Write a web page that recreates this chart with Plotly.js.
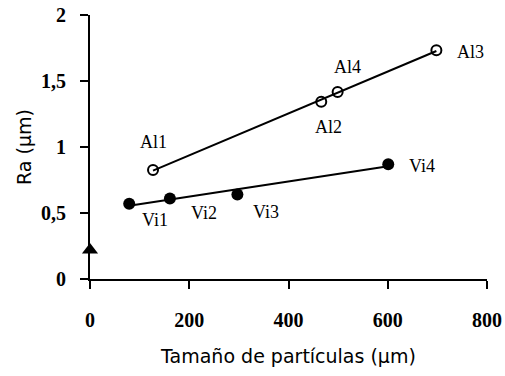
<!DOCTYPE html>
<html>
<head>
<meta charset="utf-8">
<script src="https://cdn.plot.ly/plotly-3.0.1.min.js"></script>
<style>html,body{margin:0;padding:0;background:#fff}#chart{width:505px;height:376px}</style>
</head>
<body>
<div id="chart"></div>
<script>
// Data
const alLabels = ['Al1', 'Al2', 'Al4', 'Al3'];
const alSize = [127, 466, 499, 698];
const alRa = [0.826, 1.343, 1.417, 1.733];

const viLabels = ['Vi1', 'Vi2', 'Vi3', 'Vi4'];
const viSize = [79, 161, 297, 601];
const viRa = [0.57, 0.61, 0.64, 0.87];

const refSize = [0];
const refRa = [0.22];

const xTicks = [0, 200, 400, 600, 800];
const yTicks = [0, 0.5, 1, 1.5, 2];

// label offsets (pixels) – styling only
const alOffsets = [[0, 28], [7, -25], [10, 25], [34, -2]];
const viOffsets = [[26, -16], [34, -15], [29, -17], [34, -2]];

function fit(xs, ys) {
  const n = xs.length;
  const mx = xs.reduce((a, b) => a + b, 0) / n;
  const my = ys.reduce((a, b) => a + b, 0) / n;
  let sxy = 0, sxx = 0;
  for (let i = 0; i < n; i++) { sxy += (xs[i] - mx) * (ys[i] - my); sxx += (xs[i] - mx) ** 2; }
  const b = sxy / sxx, a = my - b * mx;
  const x0 = Math.min(...xs), x1 = Math.max(...xs);
  return { x: [x0, x1], y: [a + b * x0, a + b * x1] };
}

const alFit = fit(alSize, alRa);
const viFit = fit(viSize, viRa);

const traces = [
  { x: alFit.x, y: alFit.y, mode: 'lines', line: { color: '#000', width: 2 }, hoverinfo: 'skip', showlegend: false },
  { x: viFit.x, y: viFit.y, mode: 'lines', line: { color: '#000', width: 2 }, hoverinfo: 'skip', showlegend: false },
  { x: alSize, y: alRa, mode: 'markers', marker: { symbol: 'circle-open', size: 10, color: '#000', line: { width: 2 } }, showlegend: false },
  { x: viSize, y: viRa, mode: 'markers', marker: { symbol: 'circle', size: 12, color: '#000' }, showlegend: false },
  { x: refSize, y: refRa, mode: 'markers', marker: { symbol: 'triangle-up', size: 14, color: '#000' }, cliponaxis: false, showlegend: false }
];

const labelFont = { family: 'Liberation Serif, Times New Roman, serif', size: 18, color: '#000' };
const annotations = [];
alLabels.forEach((t, i) => annotations.push({ x: alSize[i], y: alRa[i], xref: 'x', yref: 'y', text: t, showarrow: false, xshift: alOffsets[i][0], yshift: alOffsets[i][1], font: labelFont }));
viLabels.forEach((t, i) => annotations.push({ x: viSize[i], y: viRa[i], xref: 'x', yref: 'y', text: t, showarrow: false, xshift: viOffsets[i][0], yshift: viOffsets[i][1], font: labelFont }));

const tickFont = { family: 'Liberation Serif, Times New Roman, serif', size: 20, color: '#000', weight: 'bold' };
const titleFont = { family: 'DejaVu Sans, sans-serif', size: 19, color: '#000' };

const layout = {
  width: 505, height: 376,
  margin: { l: 90, r: 18, t: 15, b: 97 },
  paper_bgcolor: '#fff', plot_bgcolor: '#fff',
  separators: ',.',
  showlegend: false,
  xaxis: {
    range: [0, 800], tickvals: xTicks, ticktext: xTicks.map(String),
    showgrid: false, zeroline: false, showline: true, linecolor: '#000', linewidth: 2,
    ticks: 'outside', ticklen: 8, tickwidth: 2, tickcolor: '#000',
    tickfont: tickFont, ticklabelstandoff: 14,
    title: { text: 'Tamaño de partículas (µm)', font: titleFont, standoff: 20 }
  },
  yaxis: {
    range: [0, 2], tickvals: yTicks,
    showgrid: false, zeroline: false, showline: true, linecolor: '#000', linewidth: 2,
    ticks: 'outside', ticklen: 8, tickwidth: 2, tickcolor: '#000',
    tickfont: tickFont, ticklabelstandoff: 10,
    title: { text: 'Ra (µm)', font: titleFont, standoff: 4 }
  },
  annotations: annotations
};

Plotly.newPlot('chart', traces, layout, { staticPlot: true, displayModeBar: false });
</script>
</body>
</html>
